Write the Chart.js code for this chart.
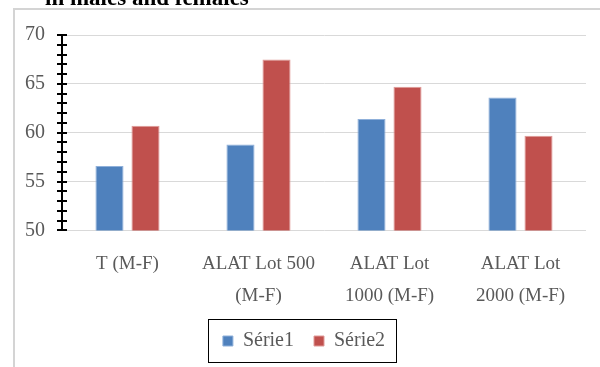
<!DOCTYPE html>
<html>
<head>
<meta charset="utf-8">
<script src="https://cdn.jsdelivr.net/npm/chart.js@4/dist/chart.umd.min.js"></script>
<style>
  html, body { margin: 0; padding: 0; background: #ffffff; }
  #wrap { width: 600px; height: 367px; position: relative; }
</style>
</head>
<body>
<div id="wrap"><canvas id="chart"></canvas></div>
<script>
// Categories (multi-line tick labels)
const categories = [
  ["T (M-F)"],
  ["ALAT Lot 500", "(M-F)"],
  ["ALAT Lot", "1000 (M-F)"],
  ["ALAT Lot", "2000 (M-F)"]
];
const seriesNames = ["Série1", "Série2"];
const serie1 = [56.6, 58.8, 61.4, 63.6];
const serie2 = [60.7, 67.5, 64.7, 59.7];
const yMin = 50, yMax = 70, yStep = 5;
const titleText = "in males and females";

const SERIF = "'Liberation Serif', 'DejaVu Serif', serif";
const GREY = "#595959";

// White background, outer frame and the (partly cropped) title line
const framePlugin = {
  id: 'frame',
  beforeDraw(chart) {
    const c = chart.ctx;
    c.save();
    c.fillStyle = '#ffffff';
    c.fillRect(0, 0, chart.width, chart.height);
    c.strokeStyle = '#d4d4d4';
    c.lineWidth = 2;
    c.beginPath();
    c.moveTo(14, chart.height);
    c.lineTo(14, 9);
    c.lineTo(chart.width, 9);
    c.stroke();
    c.fillStyle = '#000000';
    c.font = "bold 23px " + SERIF;
    c.textBaseline = 'alphabetic';
    c.textAlign = 'left';
    c.fillText(titleText, 45, 5);
    c.restore();
  }
};

// Cross tick marks on the value axis (major and minor, every unit)
const crossTicks = {
  id: 'crossTicks',
  afterDraw(chart) {
    const y = chart.scales.y;
    const x0 = chart.chartArea.left;
    const c = chart.ctx;
    c.save();
    c.strokeStyle = '#000000';
    c.lineWidth = 2;
    for (let v = yMin; v <= yMax; v++) {
      const py = Math.round(y.getPixelForValue(v));
      c.beginPath();
      c.moveTo(x0 - 5, py);
      c.lineTo(x0 + 5, py);
      c.stroke();
    }
    c.restore();
  }
};

// Black box round the legend
const legendBox = {
  id: 'legendBox',
  afterDraw(chart) {
    const boxes = chart.legend && chart.legend.legendHitBoxes;
    if (!boxes || !boxes.length) return;
    let l = Infinity, r = -Infinity, t = Infinity, b = -Infinity;
    boxes.forEach(h => {
      l = Math.min(l, h.left); r = Math.max(r, h.left + h.width);
      t = Math.min(t, h.top); b = Math.max(b, h.top + h.height);
    });
    const c = chart.ctx;
    c.save();
    c.strokeStyle = '#000000';
    c.lineWidth = 1;
    c.strokeRect(Math.round(l - 15) + 0.5, Math.round(t - 12) + 0.5, Math.round(r - l + 26), Math.round(b - t + 23));
    c.restore();
  }
};

new Chart(document.getElementById('chart'), {
  type: 'bar',
  data: {
    labels: categories,
    datasets: [
      { label: seriesNames[0], data: serie1, backgroundColor: '#4F81BD', borderColor: '#8fb0da', borderWidth: 1 },
      { label: seriesNames[1], data: serie2, backgroundColor: '#C0504D', borderColor: '#e09a98', borderWidth: 1 }
    ]
  },
  options: {
    responsive: true,
    maintainAspectRatio: false,
    animation: false,
    layout: { padding: { left: 22, right: 14, top: 35, bottom: 6 } },
    datasets: { bar: { categoryPercentage: 0.55, barPercentage: 0.78 } },
    scales: {
      x: {
        grid: { display: false },
        border: { display: false },
        afterFit(scale) { scale.height = scale.height - 10; },
        ticks: {
          color: GREY, font: { family: SERIF, size: 19, lineHeight: 1.7 },
          padding: 9, maxRotation: 0, autoSkip: false
        }
      },
      y: {
        min: yMin, max: yMax,
        afterFit(scale) { scale.width = 40; },
        ticks: { stepSize: yStep, color: GREY, font: { family: SERIF, size: 20 }, padding: 17 },
        grid: { color: '#d9d9d9', lineWidth: 1, drawTicks: false },
        border: { color: '#000000', width: 2 }
      }
    },
    plugins: {
      legend: {
        position: 'bottom',
        labels: { boxWidth: 10, boxHeight: 10, color: GREY, font: { family: SERIF, size: 20 }, padding: 20 }
      },
      tooltip: { enabled: false },
      title: { display: false }
    }
  },
  plugins: [framePlugin, crossTicks, legendBox]
});
</script>
</body>
</html>
